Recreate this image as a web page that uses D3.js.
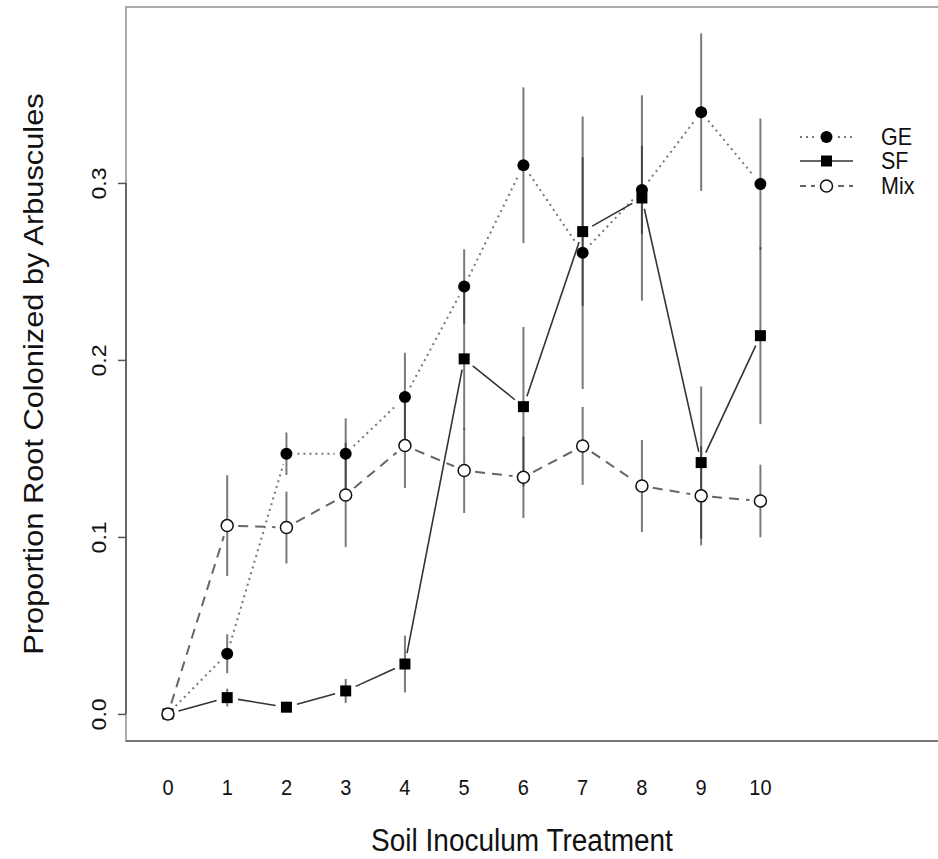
<!DOCTYPE html>
<html>
<head>
<meta charset="utf-8">
<script src="https://cdn.jsdelivr.net/npm/d3@7"></script>
<style>
  body { margin: 0; background: #fff; }
  text { font-family: "Liberation Sans", Arial, Helvetica, sans-serif; fill: #111; }
</style>
</head>
<body>
<svg width="938" height="859"></svg>
<script>
// data
const treatments = [0, 1, 2, 3, 4, 5, 6, 7, 8, 9, 10];
const geMean  = [0, 0.034, 0.147, 0.147, 0.179, 0.2415, 0.310, 0.2606, 0.296, 0.340, 0.2994];
const geErr   = [0, 0.011, 0.012, 0.020, 0.025, 0.021, 0.044, 0.077, 0.025, 0.0445, 0.037];
const sfMean  = [0, 0.0092, 0.0038, 0.013, 0.0282, 0.2006, 0.1736, 0.2725, 0.2915, 0.142, 0.2137];
const sfErr   = [0, 0.005, 0.002, 0.0068, 0.016, 0.040, 0.045, 0.042, 0.058, 0.043, 0.050];
const mixMean = [0, 0.1064, 0.1053, 0.1237, 0.1516, 0.1375, 0.1337, 0.1514, 0.1288, 0.1232, 0.1203];
const mixErr  = [0, 0.0285, 0.0203, 0.0295, 0.024, 0.024, 0.023, 0.022, 0.026, 0.028, 0.0205];
const yTicks = [0, 0.1, 0.2, 0.3];
const seriesNames = ['GE', 'SF', 'Mix'];

const svg = d3.select('svg');

const plotLeft = 126, plotTop = 7, plotBottom = 741, plotRight = 950;
// the figure is a little stretched vertically, text too
const stretch = 1.1;

const xScale = d3.scaleLinear()
    .domain([-0.708, 13.2])
    .range([plotLeft, plotRight]);

const yScale = d3.scaleLinear()
    .domain([-0.0153, 0.3994])
    .range([plotBottom, plotTop]);

const series = [
    { name: 'GE', mean: geMean, err: geErr, line: '#777', width: 2, dash: '2,4', marker: 'dot' },
    { name: 'SF', mean: sfMean, err: sfErr, line: '#333', width: 1.6, dash: null, marker: 'square' },
    { name: 'Mix', mean: mixMean, err: mixErr, line: '#666', width: 2, dash: '10,7', marker: 'open' }
];

// plot box
svg.append('rect')
    .attr('x', plotLeft)
    .attr('y', plotTop)
    .attr('width', plotRight - plotLeft)
    .attr('height', plotBottom - plotTop)
    .attr('fill', 'none')
    .attr('stroke', '#aaa')
    .attr('stroke-width', 2);

svg.append('line')
    .attr('x1', plotLeft).attr('x2', plotRight)
    .attr('y1', plotBottom).attr('y2', plotBottom)
    .attr('stroke', '#777')
    .attr('stroke-width', 2);

// y axis
const yAxis = svg.append('g')
    .attr('transform', `translate(${plotLeft}, 0)`)
    .call(d3.axisLeft(yScale)
        .tickValues(yTicks)
        .tickSize(8)
        .tickFormat(d3.format('.1f')));

yAxis.select('.domain')
    .attr('d', `M0,${yScale(0)}V${yScale(0.3)}`)
    .attr('stroke', '#666')
    .attr('stroke-width', 2);

yAxis.selectAll('.tick line')
    .attr('stroke', '#555')
    .attr('stroke-width', 1.5);

yAxis.selectAll('.tick text')
    .attr('x', 0)
    .attr('dy', 0)
    .attr('transform', `translate(-20, 0) rotate(-90) scale(${stretch}, 1)`)
    .attr('text-anchor', 'middle')
    .attr('font-size', 21)
    .attr('font-family', '"Liberation Sans", Arial, sans-serif')
    .attr('fill', '#111');

// x tick labels (no axis line in the figure)
svg.append('g')
    .selectAll('text')
    .data(treatments)
    .enter()
    .append('text')
    .attr('transform', (d) => `translate(${xScale(d)}, 795) scale(1, ${stretch})`)
    .attr('text-anchor', 'middle')
    .attr('font-size', 20)
    .text((d) => d);

// error bars
series.forEach((s) => {
    svg.append('g')
        .selectAll('line')
        .data(treatments.filter((t) => s.err[t] > 0.003))
        .enter()
        .append('line')
        .attr('x1', (t) => xScale(t))
        .attr('x2', (t) => xScale(t))
        .attr('y1', (t) => yScale(s.mean[t] + s.err[t]))
        .attr('y2', (t) => yScale(s.mean[t] - s.err[t]))
        .attr('stroke', '#222')
        .attr('stroke-opacity', 0.6)
        .attr('stroke-width', 2);
});

// connecting lines with gaps around points (like R type = "b")
const gap = 11;
series.forEach((s) => {
    const pts = treatments.map((t) => [xScale(t), yScale(s.mean[t])]);
    const segs = [];
    for (let i = 0; i < pts.length - 1; i++) {
        const [x1, y1] = pts[i];
        const [x2, y2] = pts[i + 1];
        const len = Math.hypot(x2 - x1, y2 - y1);
        if (len <= 2 * gap) continue;
        const ux = (x2 - x1) / len, uy = (y2 - y1) / len;
        segs.push([x1 + ux * gap, y1 + uy * gap, x2 - ux * gap, y2 - uy * gap]);
    }
    svg.append('g')
        .selectAll('line')
        .data(segs)
        .enter()
        .append('line')
        .attr('x1', (d) => d[0])
        .attr('y1', (d) => d[1])
        .attr('x2', (d) => d[2])
        .attr('y2', (d) => d[3])
        .attr('stroke', s.line)
        .attr('stroke-width', s.width)
        .attr('stroke-dasharray', s.dash);
});

function drawMarker(g, type, x, y) {
    if (type === 'dot') {
        g.append('circle').attr('cx', x).attr('cy', y).attr('r', 6).attr('fill', '#000');
    } else if (type === 'square') {
        g.append('rect').attr('x', x - 5.5).attr('y', y - 5.5).attr('width', 11).attr('height', 11).attr('fill', '#000');
    } else {
        g.append('circle').attr('cx', x).attr('cy', y).attr('r', 6)
            .attr('fill', '#fff').attr('stroke', '#111').attr('stroke-width', 1.5);
    }
}

// markers
series.forEach((s) => {
    const g = svg.append('g');
    treatments.forEach((t) => drawMarker(g, s.marker, xScale(t), yScale(s.mean[t])));
});

// legend
const legend = svg.append('g');
const legendY = [137, 161, 186];
series.forEach((s, i) => {
    const y = legendY[i];
    const pieces = s.name === 'SF' ? [[800, 853]] : [[800, 815], [838, 853]];
    pieces.forEach(([a, b]) => {
        legend.append('line')
            .attr('x1', a).attr('x2', b)
            .attr('y1', y).attr('y2', y)
            .attr('stroke', s.line)
            .attr('stroke-width', s.width)
            .attr('stroke-dasharray', s.name === 'Mix' ? '6,5' : s.dash);
    });
    drawMarker(legend, s.marker, 826.5, y);
    legend.append('text')
        .attr('transform', `translate(881, ${y + 8}) scale(1, 1.08)`)
        .attr('font-size', 21.5)
        .text(seriesNames[i]);
});

// axis titles
svg.append('text')
    .attr('transform', `translate(522, 851) scale(1, ${stretch})`)
    .attr('text-anchor', 'middle')
    .attr('font-size', 28)
    .text('Soil Inoculum Treatment');

svg.append('text')
    .attr('transform', `translate(43, ${(plotTop + plotBottom) / 2}) rotate(-90) scale(${stretch}, 1)`)
    .attr('text-anchor', 'middle')
    .attr('font-size', 28)
    .text('Proportion Root Colonized by Arbuscules');
</script>
</body>
</html>
